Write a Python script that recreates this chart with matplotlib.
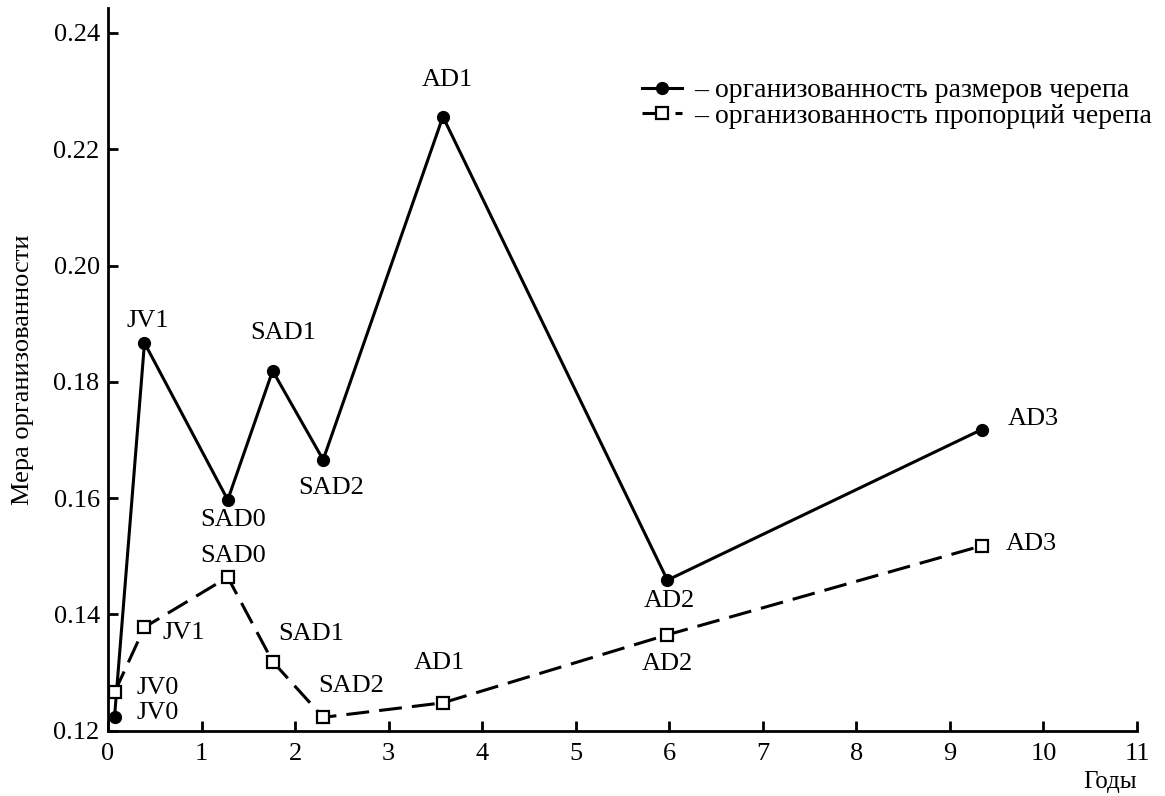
import matplotlib.pyplot as plt

plt.rcParams['font.family'] = ['Liberation Serif', 'DejaVu Serif']

labels = ['JV0', 'JV1', 'SAD0', 'SAD1', 'SAD2', 'AD1', 'AD2', 'AD3']
years = [0.07, 0.39, 1.28, 1.76, 2.30, 3.58, 5.98, 9.34]
size_org = [0.1224, 0.1867, 0.1597, 0.1819, 0.1666, 0.2256, 0.1459, 0.1718]
prop_org = [0.1266, 0.1378, 0.1464, 0.1319, 0.1223, 0.1248, 0.1365, 0.1518]

# label offsets in pixels (dx, dy)
size_off = [(43, 4), (3, 22), (5, -20), (11, 38), (8, -28), (4, 37), (2, -21), (52, 11)]
prop_off = [(43, 4), (39, -6), (5, 21), (39, 28), (28, 31), (-4, 40), (0, -29), (50, 2)]

fig = plt.figure(figsize=(11.65, 7.96), dpi=100)
ax = fig.add_axes([0.0927, 0.082, 0.8833, 0.908])

ax.plot(years, size_org, '-', color='black', lw=2.2, marker='o', ms=8.5,
        label='– организованность размеров черепа')
ax.plot(years, prop_org, color='black', lw=2.2, dashes=(7.5, 3.3), marker='s', ms=8.5,
        mfc='white', mew=1.6, label='– организованность пропорций черепа')

for lab, x, y, off in zip(labels, years, size_org, size_off):
    ax.annotate(lab, (x, y), xytext=off, textcoords='offset pixels',
                ha='center', va='center', fontsize=19)
for lab, x, y, off in zip(labels, years, prop_org, prop_off):
    ax.annotate(lab, (x, y), xytext=off, textcoords='offset pixels',
                ha='center', va='center', fontsize=19)

ax.set_xlim(0, 11)
ax.set_ylim(0.12, 0.2443)
ax.set_xticks(range(0, 12))
ax.set_yticks([0.12, 0.14, 0.16, 0.18, 0.20, 0.22, 0.24])
ax.set_yticklabels(['0.12', '0.14', '0.16', '0.18', '0.20', '0.22', '0.24'])
ax.tick_params(direction='in', length=7, width=2.0, labelsize=19)
ax.tick_params(axis='x', pad=9)
ax.tick_params(axis='y', pad=6)
for s in ['top', 'right']:
    ax.spines[s].set_visible(False)
for s in ['left', 'bottom']:
    ax.spines[s].set_linewidth(2.0)

ax.set_ylabel('Мера организованности', fontsize=19, labelpad=14)
ax.set_xlabel('Годы', fontsize=18)
ax.xaxis.set_label_coords(1.0, -0.056)
ax.xaxis.label.set_ha('right')

ax.legend(loc='upper left', bbox_to_anchor=(0.551, 0.902), bbox_transform=fig.transFigure,
          frameon=False, fontsize=20, handlelength=1.45, handletextpad=0.42,
          labelspacing=0.0, borderpad=0, borderaxespad=0)

fig.savefig('out.png', dpi=100)
